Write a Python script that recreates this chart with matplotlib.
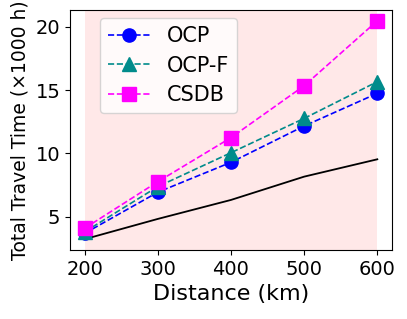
import matplotlib
matplotlib.use("Agg")
import matplotlib.pyplot as plt

distance = [200, 300, 400, 500, 600]
ocp = [3.68, 6.93, 9.29, 12.16, 14.74]
ocp_f = [3.80, 7.37, 10.05, 12.76, 15.66]
csdb = [4.08, 7.76, 11.24, 15.34, 20.47]
baseline = [3.22, 4.82, 6.32, 8.16, 9.53]

fig = plt.figure(figsize=(4.07, 3.19), dpi=100)
ax = fig.add_axes([0.172, 0.216, 0.791, 0.753])
ax.axvspan(distance[0], distance[-1], color='#ffe8e8', zorder=0, lw=0)
ax.plot(distance, baseline, color='black', lw=1.3)
ax.plot(distance, ocp, 'o--', color='blue', ms=9.5, lw=1.2, label='OCP')
ax.plot(distance, ocp_f, '^--', color='#008b8b', ms=9.5, lw=1.2, label='OCP-F')
ax.plot(distance, csdb, 's--', color='magenta', ms=9.5, lw=1.2, label='CSDB')
ax.set_xticks(distance)
ax.set_yticks([5, 10, 15, 20])
ax.tick_params(labelsize=14)
ax.set_xlabel('Distance (km)', fontsize=16)
ax.set_ylabel('Total Travel Time (×1000 h)', fontsize=13.5)
ax.legend(loc='upper left', fontsize=15, bbox_to_anchor=(0.093, 0.967),
          borderaxespad=0, labelspacing=0.45, handlelength=2.0, handletextpad=0.8)
fig.savefig('out.png', dpi=100)
